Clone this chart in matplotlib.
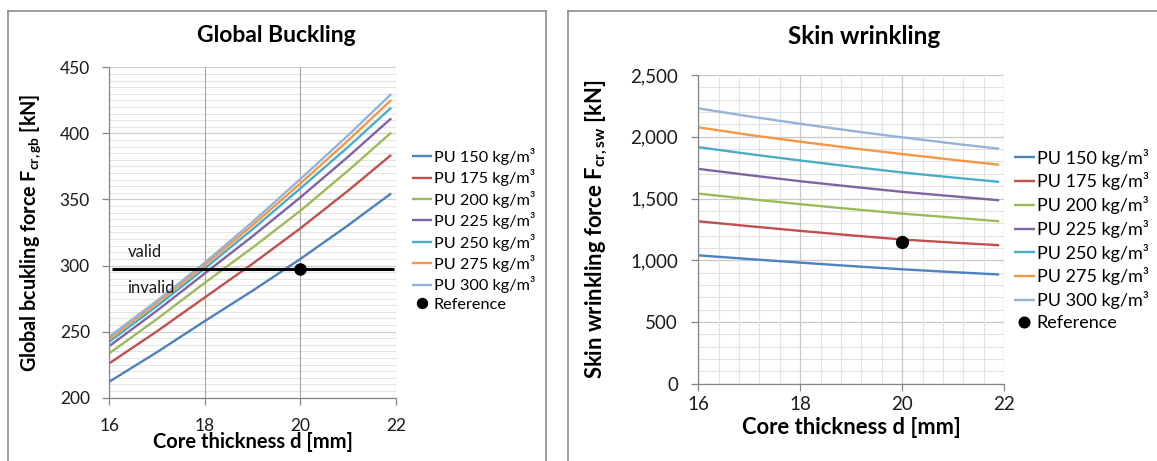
import matplotlib
matplotlib.use("Agg")
import matplotlib.pyplot as plt
from matplotlib.lines import Line2D
from matplotlib.ticker import MultipleLocator, FuncFormatter

plt.rcParams['font.family'] = ['Lato', 'DejaVu Sans']
plt.rcParams['mathtext.fontset'] = 'custom'
plt.rcParams['mathtext.rm'] = 'Lato'
plt.rcParams['mathtext.bf'] = 'Lato:bold'
plt.rcParams['mathtext.it'] = 'Lato:italic'

# ---------------- data ----------------
densities = ["PU 150 kg/m³", "PU 175 kg/m³", "PU 200 kg/m³", "PU 225 kg/m³",
             "PU 250 kg/m³", "PU 275 kg/m³", "PU 300 kg/m³"]
colors = ["#4F81BD", "#C0504D", "#9BBB59", "#8064A2", "#4BACC6", "#F79646", "#95B3D7"]

thickness = [16, 17, 18, 19, 20, 21, 21.9]

gb_150 = [212.1, 234.5, 258.0, 281.0, 305.0, 330.5, 354.6]
gb_175 = [226.0, 250.3, 275.9, 301.4, 328.2, 356.7, 383.7]
gb_200 = [233.6, 259.6, 287.0, 313.6, 341.5, 371.9, 400.6]
gb_225 = [239.1, 265.9, 294.1, 322.2, 351.6, 382.4, 411.4]
gb_250 = [242.4, 269.4, 297.9, 327.5, 358.4, 389.8, 419.5]
gb_275 = [244.7, 271.8, 300.4, 330.6, 362.2, 394.7, 425.3]
gb_300 = [246.2, 273.4, 302.2, 333.1, 365.5, 398.6, 429.8]

sw_150 = [1040, 1010, 981, 953, 927, 904, 885]
sw_175 = [1316, 1276, 1238, 1202, 1168, 1143, 1122]
sw_200 = [1540, 1496, 1454, 1415, 1378, 1345, 1316]
sw_225 = [1740, 1689, 1640, 1596, 1554, 1518, 1486]
sw_250 = [1916, 1860, 1808, 1758, 1711, 1670, 1635]
sw_275 = [2076, 2015, 1960, 1908, 1860, 1813, 1773]
sw_300 = [2230, 2165, 2105, 2048, 1995, 1945, 1903]

gb_ref_x, gb_ref_y = 20, 297.5
sw_ref_x, sw_ref_y = 20, 1145
valid_line_x = [16.05, 21.95]
valid_line_y = [297.5, 297.5]

gb_series = [gb_150, gb_175, gb_200, gb_225, gb_250, gb_275, gb_300]
sw_series = [sw_150, sw_175, sw_200, sw_225, sw_250, sw_275, sw_300]

W, H = 1157, 461
fig = plt.figure(figsize=(W / 100, H / 100), dpi=100)


def frac_box(x0, y0, x1, y1):
    return [x0 / W, 1 - y1 / H, (x1 - x0) / W, (y1 - y0) / H]


# panel borders
bc = "#8c8c8c"
for xs, ys in [([8.3, 8.3], [461, 10.7]), ([8.3, 545.7], [10.7, 10.7]), ([545.7, 545.7], [10.7, 461]),
               ([567.7, 567.7], [461, 10.7]), ([567.7, 1157], [10.7, 10.7])]:
    fig.add_artist(Line2D([x / W for x in xs], [1 - y / H for y in ys], color=bc, lw=1.2,
                          transform=fig.transFigure))

spine_c = "#868686"


def style_axes(ax, tick_fs, xpad, ypad):
    for s in ["top", "right"]:
        ax.spines[s].set_visible(False)
    for s in ["left", "bottom"]:
        ax.spines[s].set_color(spine_c)
        ax.spines[s].set_linewidth(0.9)
    ax.tick_params(which="major", direction="out", length=5, width=0.9, color=spine_c,
                   labelsize=tick_fs, labelcolor="#1a1a1a")
    ax.tick_params(axis="x", which="major", pad=xpad)
    ax.tick_params(axis="y", which="major", pad=ypad)
    ax.tick_params(which="minor", length=0)
    ax.set_axisbelow(True)
    ax.xaxis.set_zorder(0.6)


# ---------------- left: global buckling ----------------
ax1 = fig.add_axes(frac_box(109.3, 67.3, 396.0, 397.7))
ax1.set_xlim(16, 22)
ax1.set_ylim(200, 450)
ax1.xaxis.set_major_locator(MultipleLocator(2))
ax1.yaxis.set_major_locator(MultipleLocator(50))
ax1.yaxis.set_minor_locator(MultipleLocator(5))
ax1.grid(which="major", axis="x", color="#a6a6a6", lw=0.8)
ax1.grid(which="major", axis="y", color="#d0d0d0", lw=0.9)
ax1.grid(which="minor", axis="y", color="#e4e4e4", lw=0.8)
style_axes(ax1, 12.5, 9.4, 9)
for vals, c, lab in zip(gb_series, colors, densities):
    ax1.plot(thickness, vals, color=c, lw=1.7, label=lab, solid_capstyle="butt")
ax1.plot(valid_line_x, valid_line_y, color="black", lw=2.2, solid_capstyle="butt")
ax1.plot([gb_ref_x], [gb_ref_y], "o", color="black", ms=8, label="Reference")
ax1.text(16.39, 310.6, "valid", fontsize=12, ha="left", va="center", color="#1a1a1a")
ax1.text(16.37, 283.2, "invalid", fontsize=12, ha="left", va="center", color="#1a1a1a")
ax1.set_xlabel("Core thickness d [mm]", fontsize=14.5, fontweight="bold")
ax1.set_ylabel(r"Global bcukling force F$_{\mathbf{cr,gb}}$ [kN]", fontsize=14.2,
               fontweight="bold")
ax1.yaxis.set_label_coords(-0.230, 0.5)
ax1.xaxis.set_label_coords(0.5, -0.104)
fig.text(276 / W, 1 - 35 / H, "Global Buckling", fontsize=16.5, fontweight="bold",
         ha="center", va="center")
h, l = ax1.get_legend_handles_labels()
ax1.legend(h, l, loc="upper left", bbox_to_anchor=(412 / W, 1 - 148 / H),
           bbox_transform=fig.transFigure, frameon=False, fontsize=11.7,
           handlelength=1.23, handletextpad=0.1, labelspacing=0.27,
           borderpad=0, borderaxespad=0, markerscale=0.9)

# ---------------- right: skin wrinkling ----------------
ax2 = fig.add_axes(frac_box(698.3, 75.0, 1004.3, 383.8))
ax2.set_xlim(16, 22)
ax2.set_ylim(0, 2500)
ax2.xaxis.set_major_locator(MultipleLocator(2))
ax2.xaxis.set_minor_locator(MultipleLocator(0.4))
ax2.yaxis.set_major_locator(MultipleLocator(500))
ax2.yaxis.set_minor_locator(MultipleLocator(100))
ax2.yaxis.set_major_formatter(FuncFormatter(lambda v, p: f"{int(v):,}"))
ax2.grid(which="major", axis="both", color="#c8c8c8", lw=0.9)
ax2.grid(which="minor", axis="both", color="#e2e2e2", lw=0.8)
style_axes(ax2, 13.5, 3.7, 9.6)
for vals, c, lab in zip(sw_series, colors, densities):
    ax2.plot(thickness, vals, color=c, lw=1.7, label=lab, solid_capstyle="butt")
ax2.plot([sw_ref_x], [sw_ref_y], "o", color="black", ms=8.5, label="Reference")
ax2.set_xlabel("Core thickness d [mm]", fontsize=15.8, fontweight="bold")
ax2.set_ylabel(r"Skin wrinkling force F$_{\mathbf{cr,sw}}$ [kN]", fontsize=15.8,
               fontweight="bold")
ax2.yaxis.set_label_coords(-0.291, 0.5)
ax2.xaxis.set_label_coords(0.5, -0.1075)
fig.text(864 / W, 1 - 37 / H, "Skin wrinkling", fontsize=17.5, fontweight="bold",
         ha="center", va="center")
h, l = ax2.get_legend_handles_labels()
ax2.legend(h, l, loc="upper left", bbox_to_anchor=(1014 / W, 1 - 148.6 / H),
           bbox_transform=fig.transFigure, frameon=False, fontsize=13,
           handlelength=1.16, handletextpad=0.1, labelspacing=0.32,
           borderpad=0, borderaxespad=0, markerscale=0.9)

fig.savefig("out.png", dpi=100)
